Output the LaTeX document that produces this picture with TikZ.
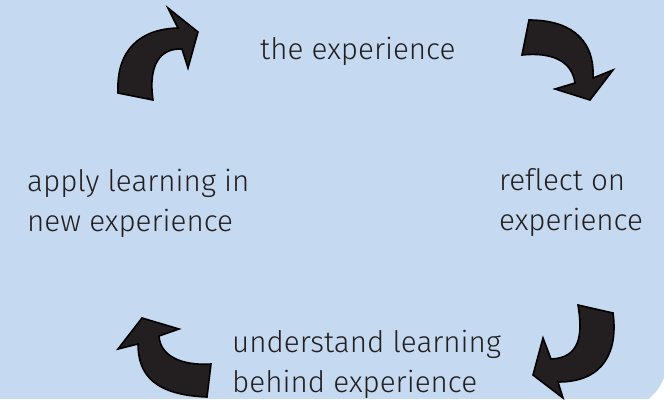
\documentclass[tikz,border=0pt]{standalone}
\usepackage{fontspec}
\setmainfont{Fira Sans Light}[Ligatures=NoCommon]
\definecolor{bgblue}{HTML}{C5D9F1}
\definecolor{arrowfill}{HTML}{231F20}
\definecolor{txt}{HTML}{231F20}
\begin{document}
\begin{tikzpicture}[x=1pt,y=-1pt,
  cyclearrow/.style={fill=arrowfill,draw=black,line width=1.6pt,line join=miter},
  label/.style={inner sep=0pt,text=txt,align=left,font=\fontsize{29.6}{39.5}\selectfont}]
\useasboundingbox (0,0) rectangle (664,399);
\fill[bgblue] (0,0) rectangle (664,399);
\fill[white] (664,378) .. controls (659,389) .. (649,399) -- (664,399) -- cycle;
% arrows
\path[cyclearrow] (118,93) .. controls (116,50) and (140,29) .. (178,28) -- (168,8) -- (198,32) -- (188,68) -- (182,49) .. controls (160,48) and (148,65) .. (153,100) -- cycle;
\path[cyclearrow] (529,20) .. controls (565,20) and (595,35) .. (593,78) -- (613,70) -- (590,100) -- (555,89) -- (575,83) .. controls (572,60) and (550,52) .. (522,55) -- cycle;
\path[cyclearrow] (578,305) -- (613,313) .. controls (618,350) and (605,382) .. (558,382) -- (563,398) -- (533,375) -- (543,338) -- (551,359) .. controls (580,358) and (583,335) .. (578,305) -- cycle;
\path[cyclearrow] (211,364) .. controls (180,366) and (160,355) .. (159,336) -- (179,329) -- (142,318) -- (118,349) -- (138,344) .. controls (138,375) and (155,395) .. (207,397) -- cycle;
% labels
\node[label,anchor=base west] (exp) at (260,59) {the experience};
\node[label,anchor=base west] (refl) at (499,230) {reflect on\\experience};
\node[label,anchor=base west] (und) at (232,392) {understand learning\\behind experience};
\node[label,anchor=base west] (apply) at (27,231) {apply learning in\\new experience};
\end{tikzpicture}
\end{document}
